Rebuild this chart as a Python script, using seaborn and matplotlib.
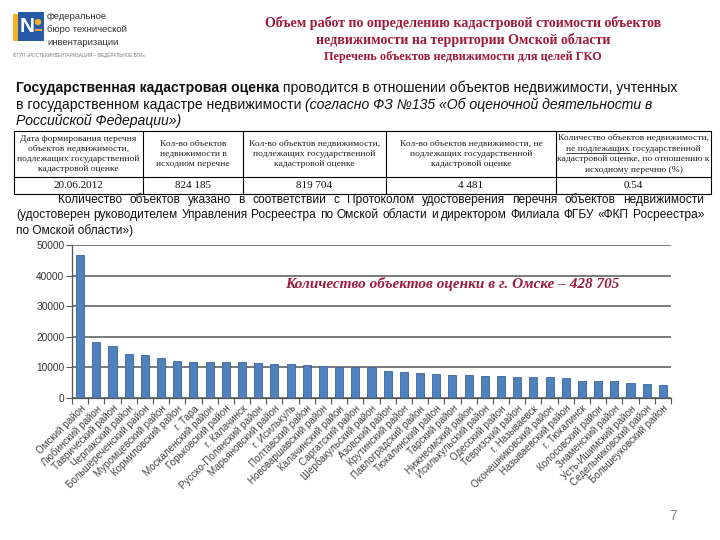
import numpy as np
import pandas as pd
import matplotlib
matplotlib.use("Agg")
import matplotlib.pyplot as plt
import seaborn as sns
from matplotlib.lines import Line2D
from matplotlib.patches import Rectangle

# ---------------- data ----------------
districts = [
    "Омский район", "Любинский район", "Таврический район", "Черлакский район",
    "Большереченский район", "Муромцевский район", "Кормиловский район", "г. Тара",
    "Москаленский район", "Горьковский район", "г. Калачинск", "Русско-Полянский район",
    "Марьяновский район", "г. Исилькуль", "Полтавский район", "Нововаршавский район",
    "Калачинский район", "Саргатский район", "Шербакульский район", "Азовский район",
    "Крутинский район", "Павлоградский район", "Тюкалинский район", "Тарский район",
    "Нижнеомский район", "Исилькульский район", "Одесский район", "Тевризский район",
    "г. Называевск", "Оконешниковский район", "Называевский район", "г. Тюкалинск",
    "Колосовский район", "Знаменский район", "Усть-Ишимский район",
    "Седельниковский район", "Большеуковский район",
]
counts = [
    46600, 18300, 17000, 14500, 14200, 13200, 12200, 11900, 11900, 11800, 11800,
    11400, 11200, 11200, 10700, 10500, 10100, 10050, 10100, 8900, 8500, 8300,
    7850, 7650, 7400, 7300, 7100, 6900, 6800, 6700, 6550, 5600, 5500, 5500,
    5050, 4700, 4200,
]
yticks = [0, 10000, 20000, 30000, 40000, 50000]

title_lines = [
    "Объем работ по определению кадастровой стоимости объектов",
    "недвижимости на территории Омской области",
]
subtitle = "Перечень объектов недвижимости для целей ГКО"
annotation = "Количество объектов оценки в г. Омске – 428 705"

table_headers = [
    "Дата формирования перечня\nобъектов недвижимости,\nподлежащих государственной\nкадастровой оценке",
    "Кол-во объектов\nнедвижимости в\nисходном перечне",
    "Кол-во объектов недвижимости,\nподлежащих государственной\nкадастровой оценке",
    "Кол-во объектов недвижимости, не\nподлежащих государственной\nкадастровой оценке",
]
last_header = ["Количество объектов недвижимости,",
               ("не подлежащих", " государственной"),
               "кадастровой оценке, по отношению к",
               "исходному перечню (%)"]
table_values = ["20.06.2012", "824 185", "819 704", "4 481", "0.54"]

p2_lines = [
    "Количество объектов указано в соответствии с Протоколом удостоверения перечня объектов недвижимости",
    "(удостоверен руководителем Управления Росреестра по Омской области и директором Филиала ФГБУ «ФКП Росреестра»",
    "по Омской области»)",
]

# ---------------- fonts ----------------
sns.set_theme(style="white")
SANS = "Liberation Sans"
SERIF = "Liberation Serif"
plt.rcParams["font.family"] = [SANS, "DejaVu Sans"]

W, H = 720, 540
fig = plt.figure(figsize=(7.2, 5.4), dpi=100)
fig.patch.set_facecolor("white")

# ---------------- chart ----------------
ax = fig.add_axes([72 / W, 1 - 398 / H, (671 - 72) / W, (398 - 245) / H])
df = pd.DataFrame({"district": districts, "count": counts})
sns.barplot(data=df, x="district", y="count", color="#4F81BD", saturation=1,
            width=0.5, edgecolor="#3B6698", linewidth=0.6, ax=ax)
ax.set_xlim(-0.5, len(districts) - 0.5)
ax.set_ylim(0, 50000)
ax.set_yticks(yticks)
ax.set_yticklabels([str(v) for v in yticks], fontsize=7.3, color="#333333")
ax.set_xticks(np.arange(len(districts)))
ax.set_xticklabels(districts, rotation=45, ha="right", va="top",
                   rotation_mode="anchor", fontsize=7.1, color="#444444")
ax.set_xticks(np.arange(-0.5, len(districts), 1), minor=True)
ax.tick_params(axis="x", which="major", length=0, pad=4)
ax.tick_params(axis="x", which="minor", length=4, width=0.8, color="#555555",
               direction="out", bottom=True)
ax.tick_params(axis="y", length=4, width=0.8, color="#555555", direction="out",
               left=True, pad=1.5)
ax.grid(axis="y", color="#6e6e6e", linewidth=1.3)
ax.grid(axis="x", visible=False)
ax.set_axisbelow(True)
for s in ["top", "right"]:
    ax.spines[s].set_visible(False)
for s in ["left", "bottom"]:
    ax.spines[s].set_color("#555555")
    ax.spines[s].set_linewidth(0.9)
ax.set_xlabel("")
ax.set_ylabel("")
ax.set_facecolor("white")

# ---------------- overlay (pixel coords, top-left origin) ----------------
ov = fig.add_axes([0, 0, 1, 1], zorder=5)
ov.set_xlim(0, W)
ov.set_ylim(H, 0)
ov.axis("off")
ov.patch.set_alpha(0)
renderer = fig.canvas.get_renderer()


def width_of(t):
    return t.get_window_extent(renderer).width


def runs(x, y, parts, **common):
    for txt, kw in parts:
        t = ov.text(x, y, txt, va="baseline", ha="left", **common, **kw)
        x += width_of(t)
    return x


def natural_width(text, **kw):
    t = ov.text(0, 0, text, **kw)
    w = width_of(t)
    t.remove()
    return w


def justified(x0, x1, y, text, **kw):
    words = text.split(" ")
    arts = [ov.text(0, y, w, va="baseline", ha="left", **kw) for w in words]
    ws = [width_of(a) for a in arts]
    gap = (x1 - x0 - sum(ws)) / (len(words) - 1)
    x = x0
    for a, w in zip(arts, ws):
        a.set_x(x)
        x += w + gap


# logo
ov.add_patch(Rectangle((13, 14), 5, 27, color="#F2B21B", lw=0))
ov.add_patch(Rectangle((18, 12), 26, 29, color="#2859A8", lw=0))
ov.text(27, 27, "N", color="white", fontsize=15, fontweight="bold",
        ha="center", va="center", family=SANS)
ov.add_patch(plt.Circle((38, 22), 3.2, color="#F2B21B", lw=0))
ov.add_patch(Rectangle((34.5, 29), 7, 2.2, color="#F2B21B", lw=0))
for yy, s in [(19, "федеральное"), (32, "бюро технической"), (45, "инвентаризации")]:
    ov.text(47, yy, s, fontsize=6.8, color="#333333", family=SANS, va="baseline")
ov.text(13, 57, "ФГУП «РОСТЕХИНВЕНТАРИЗАЦИЯ – ФЕДЕРАЛЬНОЕ БТИ»", fontsize=3.3,
        color="#777777", family=SANS, va="baseline")

# title
TITLE_C = "#9E1A3A"
ov.text(463, 27, title_lines[0], fontsize=10.1, fontweight="bold", family=SERIF,
        color=TITLE_C, ha="center", va="baseline")
ov.text(463, 44, title_lines[1], fontsize=10.1, fontweight="bold", family=SERIF,
        color=TITLE_C, ha="center", va="baseline")
ov.text(463, 60, subtitle, fontsize=8.8, fontweight="bold", family=SERIF,
        color=TITLE_C, ha="center", va="baseline")

# paragraph 1
P1 = dict(fontsize=10.1, family=SANS, color="#111111")
runs(16, 92, [("Государственная кадастровая оценка", dict(fontweight="bold")),
              (" проводится в отношении объектов недвижимости, учтенных", {})], **P1)
runs(16, 109, [("в государственном кадастре недвижимости ", {}),
               ("(согласно ФЗ №135 «Об оценочной деятельности в", dict(style="italic"))], **P1)
runs(16, 125, [("Российской Федерации»)", dict(style="italic"))], **P1)

# table
cols = [14, 143, 243, 386, 556, 711]
rows = [131, 177, 194]
for x in cols:
    ov.add_line(Line2D([x, x], [rows[0], rows[-1]], color="black", lw=0.8))
for y in rows:
    ov.add_line(Line2D([cols[0], cols[-1]], [y, y], color="black", lw=0.8))
TB = dict(fontsize=6.8, family=SERIF, color="#222222")
for i, hdr in enumerate(table_headers):
    ov.text((cols[i] + cols[i + 1]) / 2, (rows[0] + rows[1]) / 2, hdr, ha="center",
            va="center", linespacing=1.3, **TB)
cx = (cols[4] + cols[5]) / 2
lh = 10.6
y0 = (rows[0] + rows[1]) / 2 - 1.5 * lh
for k, line in enumerate(last_header):
    yy = y0 + k * lh
    if isinstance(line, tuple):
        a = ov.text(0, yy, line[0], ha="left", va="center", **TB)
        b = ov.text(0, yy, line[1], ha="left", va="center", **TB)
        wa, wb = width_of(a), width_of(b)
        xs = cx - (wa + wb) / 2
        a.set_x(xs)
        b.set_x(xs + wa)
        ov.add_line(Line2D([xs, xs + wa], [yy + 4.5, yy + 4.5], color="#222222", lw=0.6))
    else:
        ov.text(cx, yy, line, ha="center", va="center", **TB)
for i, v in enumerate(table_values):
    ov.text((cols[i] + cols[i + 1]) / 2, (rows[1] + rows[2]) / 2 + 0.5, v,
            ha="center", va="center", fontsize=8, family=SERIF, color="#111111")

# paragraph 2 (justified, size fitted to the available width)
size = 9.3
nat = max(natural_width(p2_lines[0], fontsize=size, family=SANS) / (704 - 58),
          natural_width(p2_lines[1], fontsize=size, family=SANS) / (704 - 16))
size = size / nat * 0.985 if nat > 0.985 else size
P2 = dict(fontsize=size, family=SANS, color="#111111")
justified(58, 704, 203, p2_lines[0], **P2)
justified(16, 704, 218, p2_lines[1], **P2)
ov.text(16, 234, p2_lines[2], va="baseline", **P2)

# annotation in chart
ov.text(285, 288, annotation, fontsize=11, fontweight="bold", style="italic",
        family=SERIF, color="#9B1B3A", va="baseline")

# page number
ov.text(673, 520, "7", fontsize=10, color="#8a8a8a", ha="center", family=SANS)

fig.savefig("out.png", dpi=100, facecolor="white")
